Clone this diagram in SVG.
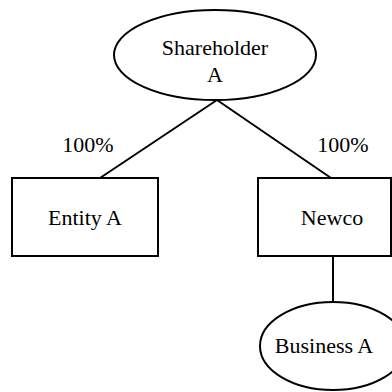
<svg xmlns="http://www.w3.org/2000/svg" width="392" height="392" viewBox="0 0 392 392">
<style>
.s{fill:#fff;stroke:#000;stroke-width:2}
.l{stroke:#000;stroke-width:2;fill:none}
text{font-family:"Liberation Serif","Times New Roman",serif;font-size:22px;fill:#000;text-anchor:middle}
</style>
<rect width="392" height="392" fill="#fff"/>
<g id="connectors">
<line class="l" x1="217" y1="100" x2="100" y2="178"/>
<line class="l" x1="217" y1="100" x2="331" y2="178"/>
<line class="l" x1="333" y1="256" x2="333" y2="302"/>
</g>
<g id="shareholder">
<ellipse class="s" cx="215" cy="55" rx="101" ry="45"/>
<text x="215" y="55">Shareholder</text>
<text x="215" y="82">A</text>
</g>
<g id="entity">
<rect class="s" x="12" y="178" width="146" height="78"/>
<text x="85" y="225">Entity A</text>
</g>
<g id="newco">
<rect class="s" x="258" y="178" width="133" height="78"/>
<text x="332" y="225">Newco</text>
</g>
<g id="business">
<ellipse class="s" cx="333" cy="346" rx="73" ry="44"/>
<text x="324" y="353">Business A</text>
</g>
<g id="labels">
<text x="88" y="152">100%</text>
<text x="343" y="152">100%</text>
</g>
</svg>
